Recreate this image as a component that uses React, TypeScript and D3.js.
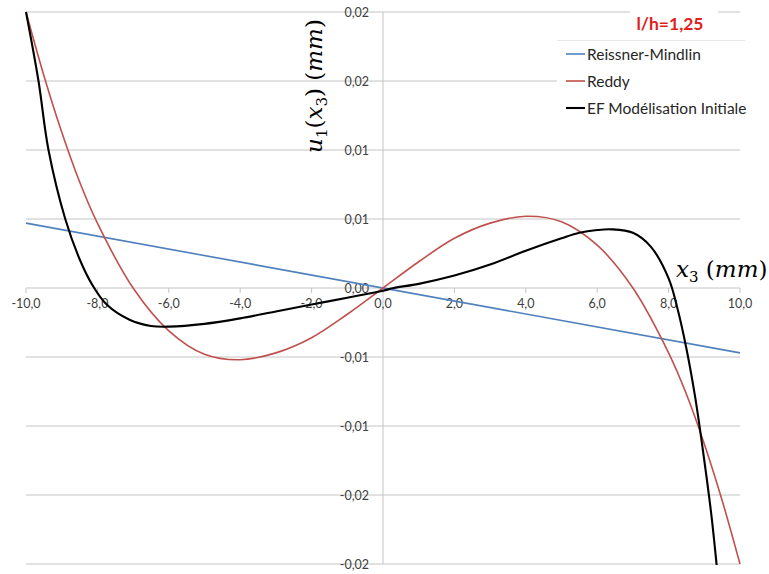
import React from "react";
import * as d3 from "d3";

const xTicks = [-10, -8, -6, -4, -2, 0, 2, 4, 6, 8, 10];
const xTickLabels = ["-10,0", "-8,0", "-6,0", "-4,0", "-2,0", "0,0", "2,0", "4,0", "6,0", "8,0", "10,0"];
const yTicks = [0.02, 0.015, 0.01, 0.005, 0, -0.005, -0.01, -0.015, -0.02];
const yTickLabels = ["0,02", "0,02", "0,01", "0,01", "0,00", "-0,01", "-0,01", "-0,02", "-0,02"];

const rmX = [-10, 10];
const rmY = [0.0047, -0.0047];

const reddyX = [-10, -9.5, -9, -8.5, -8, -7, -6, -5, -4, -3, -2, -1, 0, 1, 2, 3, 4, 5, 6, 7, 8, 8.5, 9, 9.5, 10];
const reddyY = [0.02, 0.0154, 0.0113, 0.0077, 0.0047, 0.0, -0.0031, -0.0048, -0.0052, -0.0047, -0.0036, -0.0019, 0,
  0.0019, 0.0036, 0.0047, 0.0052, 0.0048, 0.0031, 0.0, -0.0047, -0.0077, -0.0113, -0.0154, -0.02];

const efX = [-10, -9.65, -9.37, -8.9, -8.5, -8.16, -7.74, -7.1, -6.5, -6, -5, -4, -3, -2, -1, 0, 0.3, 1, 2, 3, 4, 5, 5.5, 6, 6.4, 7, 7.5, 8, 8.25, 8.5, 8.75, 9, 9.2, 9.35];
const efY = [0.02, 0.015, 0.01, 0.005, 0.0021, 0.0003, -0.0012, -0.0023, -0.00275, -0.0028, -0.0026, -0.0022, -0.0017, -0.0012, -0.0007, -0.0002, 0.0,
  0.0003, 0.0009, 0.0017, 0.0027, 0.0036, 0.0040, 0.0042, 0.00425, 0.0040, 0.0030, 0.0007, -0.0015, -0.0044, -0.008, -0.0125, -0.0165, -0.0202];

const seriesNames = ["Reissner-Mindlin", "Reddy", "EF Modélisation Initiale"];
const seriesColors = ["#4f81bd", "#c0504d", "#000000"];

export default function App() {
  const W = 769, H = 574;
  const x = d3.scaleLinear().domain([-10, 10]).range([26, 740]);
  const y = d3.scaleLinear().domain([-0.02, 0.02]).range([564, 12]);
  const line = d3.line<[number, number]>().x(d => x(d[0])).y(d => y(d[1])).curve(d3.curveCatmullRom.alpha(0.5));
  const zip = (a: number[], b: number[]) => a.map((v, i) => [v, b[i]] as [number, number]);
  const series = [zip(rmX, rmY), zip(reddyX, reddyY), zip(efX, efY)];
  const widths = [1.6, 1.6, 2.1];
  const font = "Lato, 'Open Sans', sans-serif";
  const mathFont = "'DejaVu Serif', 'Liberation Serif', serif";
  const x0 = x(0), y0 = y(0);

  return (
    <svg width={W} height={H} style={{ position: "absolute", left: 0, top: 0, background: "#fff" }}>
      <defs>
        <clipPath id="plot">
          <rect x={x(-10) - 2} y={y(0.02) - 1} width={x(10) - x(-10) + 4} height={y(-0.02) - y(0.02) + 2} />
        </clipPath>
      </defs>
      {yTicks.map((t, i) => (
        <line key={"g" + i} x1={x(-10)} x2={x(10)} y1={y(t)} y2={y(t)} stroke="#c4c4c4" strokeWidth={1} />
      ))}
      <line x1={x0} x2={x0} y1={y(0.02)} y2={y(-0.02)} stroke="#c4c4c4" strokeWidth={1} />
      {xTicks.map((t, i) => (
        <line key={"t" + i} x1={x(t)} x2={x(t)} y1={y0} y2={y0 + 5} stroke="#c4c4c4" strokeWidth={1} />
      ))}
      {xTicks.map((t, i) => (
        <text key={"xl" + i} x={x(t)} y={y0 + 20} textAnchor="middle" fontFamily={font} fontSize={12.5} fill="#404040">
          {xTickLabels[i]}
        </text>
      ))}
      {yTicks.map((t, i) => (
        <text key={"yl" + i} x={x0 - 14} y={y(t) + 4.5} textAnchor="end" fontFamily={font} fontSize={12.5} fill="#404040">
          {yTickLabels[i]}
        </text>
      ))}
      <g clipPath="url(#plot)">
        {series.map((s, i) => (
          <path key={"s" + i} d={line(s) || ""} fill="none" stroke={seriesColors[i]} strokeWidth={widths[i]} />
        ))}
      </g>
      {/* title box */}
      <rect x={630} y={3} width={88} height={34} fill="#fff" />
      <text x={670} y={30} textAnchor="middle" fontFamily={font} fontSize={17.5} fontWeight="bold" fill="#e0201c">l/h=1,25</text>
      {/* legend */}
      <rect x={557} y={40} width={200} height={84} fill="#fff" />
      <line x1={557} x2={745} y1={40.5} y2={40.5} stroke="#e8e8e8" strokeWidth={1} />
      {seriesNames.map((n, i) => (
        <g key={"lg" + i}>
          <line x1={566} x2={585} y1={54 + i * 27} y2={54 + i * 27} stroke={seriesColors[i]} strokeWidth={i === 2 ? 2.1 : 1.6} />
          <text x={587} y={59.5 + i * 27} fontFamily={font} fontSize={15.5} fill="#262626">{n}</text>
        </g>
      ))}
      {/* axis titles */}
      <text x={676} y={277} fontFamily={mathFont} fontSize={23} fill="#000">
        <tspan fontStyle="italic">x</tspan>
        <tspan fontSize={15} dy={5}>3</tspan>
        <tspan dy={-5}> (</tspan>
        <tspan fontStyle="italic">mm</tspan>
        <tspan>)</tspan>
      </text>
      <text transform={`translate(322,86) rotate(-90)`} textAnchor="middle" fontFamily={mathFont} fontSize={23} fill="#000">
        <tspan fontStyle="italic">u</tspan>
        <tspan fontSize={15} dy={5}>1</tspan>
        <tspan dy={-5}>(</tspan>
        <tspan fontStyle="italic">x</tspan>
        <tspan fontSize={15} dy={5}>3</tspan>
        <tspan dy={-5}>) (</tspan>
        <tspan fontStyle="italic">mm</tspan>
        <tspan>)</tspan>
      </text>
    </svg>
  );
}
